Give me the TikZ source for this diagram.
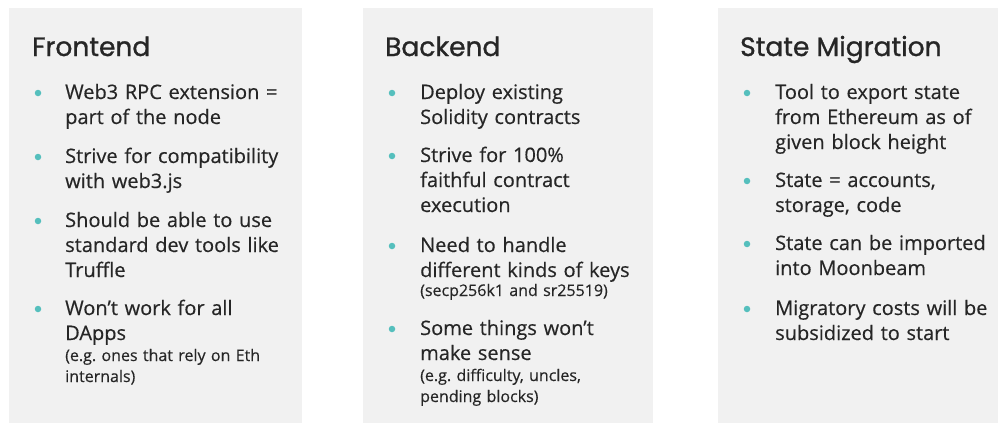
\documentclass[tikz,border=0pt]{standalone}
\usepackage{fontspec}
\setmainfont{Open Sans}[FakeBold=0.4]
\newfontfamily\headfont{Poppins}[FakeBold=1.0]
\definecolor{panelbg}{HTML}{F1F1F1}
\definecolor{ink}{HTML}{262626}
\definecolor{dotc}{HTML}{55BFBD}
\frenchspacing
\begin{document}
\begin{tikzpicture}[x=1pt,y=-1pt,
  panel/.style={fill=panelbg,draw=none},
  head/.style={anchor=base west,inner sep=0,text=ink,font=\headfont\fontsize{26.5}{30}\selectfont},
  item/.style={anchor=base west,inner sep=0,text=ink,text width=250,align=left,font=\frenchspacing\fontsize{20}{25}\selectfont},
  note/.style={anchor=base west,inner sep=0,text=ink,text width=250,align=left,font=\frenchspacing\fontsize{16}{21}\selectfont},
  dot/.style={circle,fill=dotc,minimum size=6.5,inner sep=0}]
\useasboundingbox (0,0) rectangle (998,423);
\fill[white] (0,0) rectangle (998,423);
% panels
\fill[panel] (9,8) rectangle (302,423);
\fill[panel] (363,8) rectangle (653,423);
\fill[panel] (718,8) rectangle (998,423);
% Frontend
\node[head] (h1) at (32,56) {Frontend};
\node[dot] (d11) at (38,93) {};
\node[item] (t11) at (65,99) {Web3 RPC extension =\\part of the node};
\node[dot] (d12) at (38,157) {};
\node[item] (t12) at (65,163) {Strive for compatibility\\with web3.js};
\node[dot] (d13) at (38,221) {};
\node[item] (t13) at (65,227) {Should be able to use\\standard dev tools like\\Truffle};
\node[dot] (d14) at (38,309) {};
\node[item] (t14) at (65,315) {Won’t work for all\\DApps};
\node[note] (n14) at (65,361) {(e.g.\ ones that rely on Eth\\internals)};
% Backend
\node[head] (h2) at (385,56) {Backend};
\node[dot] (d21) at (392,93) {};
\node[item] (t21) at (420,99) {Deploy existing\\Solidity contracts};
\node[dot] (d22) at (392,156) {};
\node[item] (t22) at (420,162) {Strive for 100\%\\faithful contract\\execution};
\node[dot] (d23) at (392,246) {};
\node[item] (t23) at (420,252) {Need to handle\\different kinds of keys};
\node[note] (n23) at (420,296) {(secp256k1 and sr25519)};
\node[dot] (d24) at (392,329) {};
\node[item] (t24) at (420,335) {Some things won’t\\make sense};
\node[note] (n24) at (420,381) {(e.g.\ difficulty, uncles,\\pending blocks)};
% State Migration
\node[head] (h3) at (740,56) {State Migration};
\node[dot] (d31) at (747,93) {};
\node[item] (t31) at (775,99) {Tool to export state\\from Ethereum as of\\given block height};
\node[dot] (d32) at (747,181) {};
\node[item] (t32) at (775,187) {State = accounts,\\storage, code};
\node[dot] (d33) at (747,244) {};
\node[item] (t33) at (775,250) {State can be imported\\into Moonbeam};
\node[dot] (d34) at (747,309) {};
\node[item] (t34) at (775,315) {Migratory costs will be\\subsidized to start};
\end{tikzpicture}
\end{document}
